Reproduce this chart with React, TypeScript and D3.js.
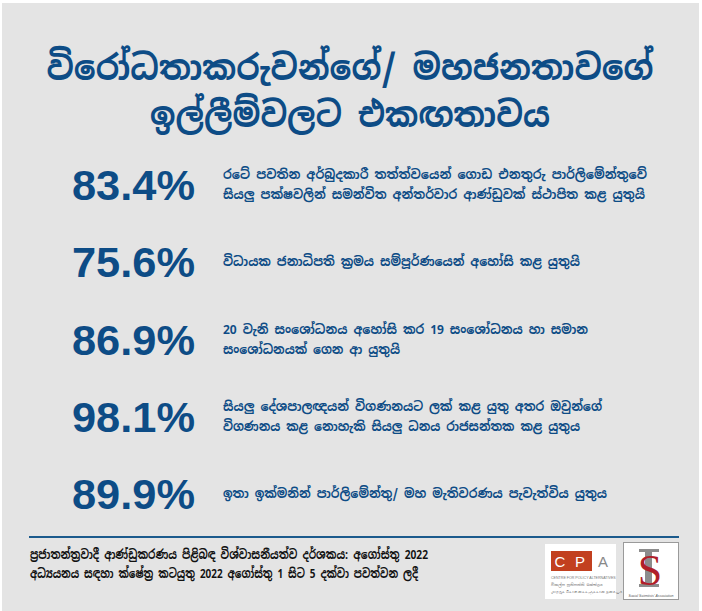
import React from "react";
import * as d3 from "d3";

const titleLines = ["විරෝධතාකරුවන්ගේ/ මහජනතාවගේ", "ඉල්ලීම්වලට එකඟතාවය"];
const titleWidths = [607, 400];
const percentages = [83.4, 75.6, 86.9, 98.1, 89.9];
const statements = [
  ["රටේ පවතින අර්බුදකාරී තත්ත්වයෙන් ගොඩ එනතුරු පාර්ලිමේන්තුවේ", "සියලු පක්ෂවලින් සමන්විත අන්තර්වාර ආණ්ඩුවක් ස්ථාපිත කළ යුතුයි"],
  ["විධායක ජනාධිපති ක්‍රමය සම්පූර්ණයෙන් අහෝසි කළ යුතුයි"],
  ["20 වැනි සංශෝධනය අහෝසි කර 19 සංශෝධනය හා සමාන", "සංශෝධනයක් ගෙන ආ යුතුයි"],
  ["සියලු දේශපාලඥයන් විගණනයට ලක් කළ යුතු අතර ඔවුන්ගේ", "විගණනය කළ නොහැකි සියලු ධනය රාජසන්තක කළ යුතුය"],
  ["ඉතා ඉක්මනින් පාර්ලිමේන්තු/ මහ මැතිවරණය පැවැත්විය යුතුය"],
];
const statementWidths = [[424, 422], [357], [365, 177], [379, 357], [384]];
const footerLines = [
  "ප්‍රජාතන්ත්‍රවාදී ආණ්ඩුකරණය පිළිබඳ විශ්වාසනීයත්ව දර්ශකය: අගෝස්තු 2022",
  "අධ්‍යයනය සඳහා ක්ෂේත්‍ර කටයුතු 2022 අගෝස්තු 1 සිට 5 දක්වා පවත්වන ලදී",
];
const footerWidths = [398, 388];

const W = 702;
const H = 611;
const BLUE = "#0d4c86";
const SIN = "'Noto Sans Sinhala','Iskoola Pota','Noto Sans','DejaVu Sans',sans-serif";

export default function App() {
  const y = d3.scalePoint<number>().domain(d3.range(percentages.length)).range([200, 509]);
  const fmt = d3.format(".1f");
  return (
    <div style={{ position: "absolute", left: 0, top: 0 }}>
      <svg width={W} height={H} style={{ display: "block" }}>
        <rect x={0} y={0} width={W} height={H} fill="#ffffff" />
        <rect x={2} y={3} width={697} height={H - 3} fill="#e4e4e4" />
        {titleLines.map((t, i) => (
          <text key={i} x={350} y={80 + i * 47} textAnchor="middle" fontFamily={SIN} fontWeight="bold" fontSize={35} fill={BLUE} textLength={titleWidths[i]} lengthAdjust="spacingAndGlyphs">
            {t}
          </text>
        ))}
        {percentages.map((p, i) => {
          const by = y(i) as number;
          const lines = statements[i];
          const cy = by - 16;
          return (
            <g key={i}>
              <text x={72} y={by} fontFamily="'Liberation Sans',Arial,sans-serif" fontWeight="bold" fontSize={43} fill={BLUE} textLength={123} lengthAdjust="spacingAndGlyphs">
                {fmt(p) + "%"}
              </text>
              {lines.map((l, j) => (
                <text key={j} x={223} y={cy + (j - (lines.length - 1) / 2) * 20 + 5} fontFamily={SIN} fontWeight="bold" fontSize={13} fill={BLUE} textLength={statementWidths[i][j]} lengthAdjust="spacingAndGlyphs">
                  {l}
                </text>
              ))}
            </g>
          );
        })}
        <line x1={29} x2={679} y1={537} y2={537} stroke="#1b5a8c" strokeWidth={2} />
        {footerLines.map((t, i) => (
          <text key={i} x={30} y={559 + i * 19} fontFamily={SIN} fontWeight="bold" fontSize={13} fill="#111" textLength={footerWidths[i]} lengthAdjust="spacingAndGlyphs">
            {t}
          </text>
        ))}
        <g>
          <rect x={545} y={544} width={71} height={55} fill="#ffffff" />
          <rect x={551} y={551} width={41} height={20} fill="#c2401f" />
          <text x={560} y={567} textAnchor="middle" fontFamily="'Liberation Sans',sans-serif" fontSize={15} fill="#fff">C</text>
          <text x={580} y={567} textAnchor="middle" fontFamily="'Liberation Sans',sans-serif" fontSize={15} fill="#fff">P</text>
          <text x={603} y={567} textAnchor="middle" fontFamily="'Liberation Sans',sans-serif" fontSize={15} fill="#888">A</text>
          <text x={551} y={579} fontFamily="'Liberation Sans',sans-serif" fontSize={3.6} fill="#777">CENTRE FOR POLICY ALTERNATIVES</text>
          <text x={551} y={586} fontFamily={SIN} fontSize={4} fill="#777">විකල්ප ප්‍රතිපත්ති කේන්ද්‍රය</text>
          <text x={551} y={593} fontFamily="'Liberation Sans',sans-serif" fontSize={4} fill="#777">மாற்றுக் கொள்கைகளுக்கான நிலையம்</text>
        </g>
        <g>
          <rect x={623.5} y={542.5} width={55} height={57} fill="#ffffff" stroke="#9a9a9a" strokeWidth={1} />
          <rect x={639} y={549} width={20} height={3} fill="#8c8c8c" />
          <rect x={645} y={549} width={7} height={37} fill="#8c8c8c" />
          <rect x={639} y={584} width={20} height={3} fill="#8c8c8c" />
          <text x={650} y={585} textAnchor="middle" fontFamily="'Liberation Serif',serif" fontSize={44} fill="#b01e2a">S</text>
          <text x={651} y={597} textAnchor="middle" fontFamily="'Liberation Sans',sans-serif" fontStyle="italic" fontSize={3.5} fill="#555">Social Scientists' Association</text>
        </g>
      </svg>
    </div>
  );
}
